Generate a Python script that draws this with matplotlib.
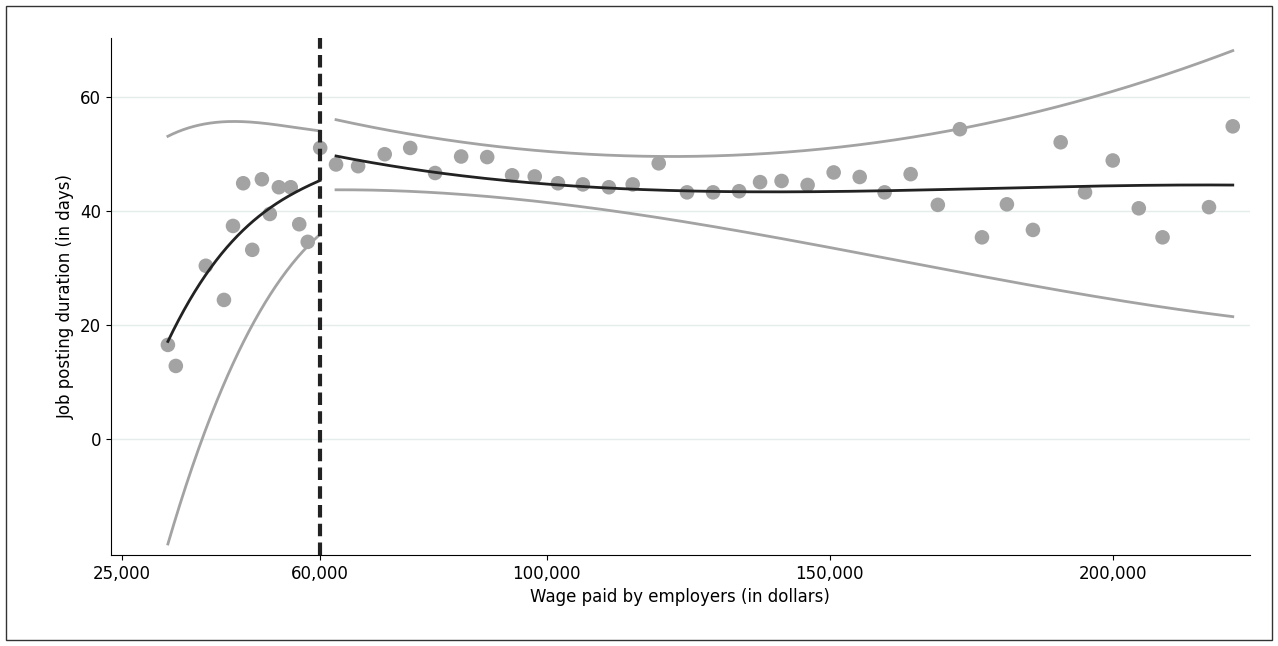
import numpy as np
import matplotlib.pyplot as plt
from matplotlib.patches import Rectangle

# scatter bins (thousands of dollars, days)
wage = [33.1, 34.5, 39.8, 43.0, 44.6, 46.4, 48.0, 49.7, 51.1, 52.7, 54.8, 56.3, 57.8, 60.0,
        62.8, 66.7, 71.4, 75.9, 80.3, 84.9, 89.5, 93.9, 97.9, 102.0, 106.4, 111.0, 115.2,
        119.8, 124.8, 129.4, 134.0, 137.7, 141.5, 146.1, 150.7, 155.3, 159.7, 164.3, 169.1,
        173.0, 176.9, 181.3, 185.9, 190.8, 195.1, 200.0, 204.6, 208.8, 217.0, 221.2]
duration = [16.5, 12.8, 30.4, 24.4, 37.4, 44.9, 33.2, 45.6, 39.5, 44.2, 44.2, 37.7, 34.6, 51.1,
            48.2, 47.9, 50.0, 51.1, 46.7, 49.6, 49.5, 46.3, 46.1, 44.9, 44.7, 44.2, 44.7,
            48.4, 43.3, 43.3, 43.5, 45.1, 45.3, 44.6, 46.8, 46.0, 43.3, 46.5, 41.1,
            54.4, 35.4, 41.2, 36.7, 52.1, 43.3, 48.9, 40.5, 35.4, 40.7, 54.9]

# fitted line and CI, left of cutoff
lx = [33.1, 35.0, 37.0, 39.5, 42.3, 45.0, 47.6, 50.3, 52.9, 56.5, 60.0]
lfit = [17.0, 21.0, 24.4, 28.5, 32.3, 35.2, 37.5, 39.9, 41.9, 43.9, 45.3]
lup = [53.2, 54.0, 54.7, 55.2, 55.6, 55.8, 55.8, 55.5, 55.0, 54.4, 54.2]
llo = [-18.6, -12.0, -6.0, 0.5, 8.0, 14.2, 19.4, 23.8, 28.0, 32.3, 36.0]

# fitted line and CI, right of cutoff
rx = [62.8, 83.0, 109.4, 118.2, 144.7, 171.2, 180.0, 197.7, 221.2]
rfit = [49.8, 46.3, 44.0, 43.8, 43.7, 43.8, 44.0, 44.2, 44.7]
rup = [56.0, 52.6, 49.8, 49.5, 50.7, 54.2, 55.8, 60.4, 68.2]
rlo = [44.0, 42.6, 40.3, 39.3, 34.9, 29.6, 27.8, 24.7, 21.6]

cutoff = 60
xticks = [25, 60, 100, 150, 200]
yticks = [0, 20, 40, 60]


def smooth(x, y, deg=3):
    # smooth curve through the read points
    xs = np.linspace(x[0], x[-1], 200)
    return xs, np.poly1d(np.polyfit(x, y, deg))(xs)


fig = plt.figure(figsize=(12.78, 6.46), dpi=100)
ax = fig.add_axes([0.0869, 0.141, 0.891, 0.80])
fig.patches.append(Rectangle((0.005, 0.01), 0.99, 0.98, transform=fig.transFigure,
                             fill=False, edgecolor="#333333", lw=1))

for y in yticks:
    ax.axhline(y, color="#e4ecec", lw=1, zorder=0)

gray = "#a3a3a3"
ax.scatter(wage, duration, s=110, color=gray, zorder=2, edgecolors="none")
for x, f, u, l in [(lx, lfit, lup, llo), (rx, rfit, rup, rlo)]:
    ax.plot(*smooth(x, u), color=gray, lw=2, zorder=3)
    ax.plot(*smooth(x, l), color=gray, lw=2, zorder=3)
    ax.plot(*smooth(x, f), color="#222222", lw=2, zorder=4)
ax.axvline(cutoff, color="#222222", lw=3, ls=(0, (3, 1.5)), zorder=5)

ax.set_xlim(23.06, 224.2)
ax.set_ylim(-20.4, 70.4)
ax.set_xticks(xticks)
ax.set_xticklabels([f"{t*1000:,}" for t in xticks], fontsize=12)
ax.set_yticks(yticks)
ax.set_yticklabels([str(t) for t in yticks], fontsize=12)
ax.spines["top"].set_visible(False)
ax.spines["right"].set_visible(False)
ax.set_xlabel("Wage paid by employers (in dollars)", fontsize=12)
ax.set_ylabel("Job posting duration (in days)", fontsize=12)

fig.savefig("out.png", dpi=100)
